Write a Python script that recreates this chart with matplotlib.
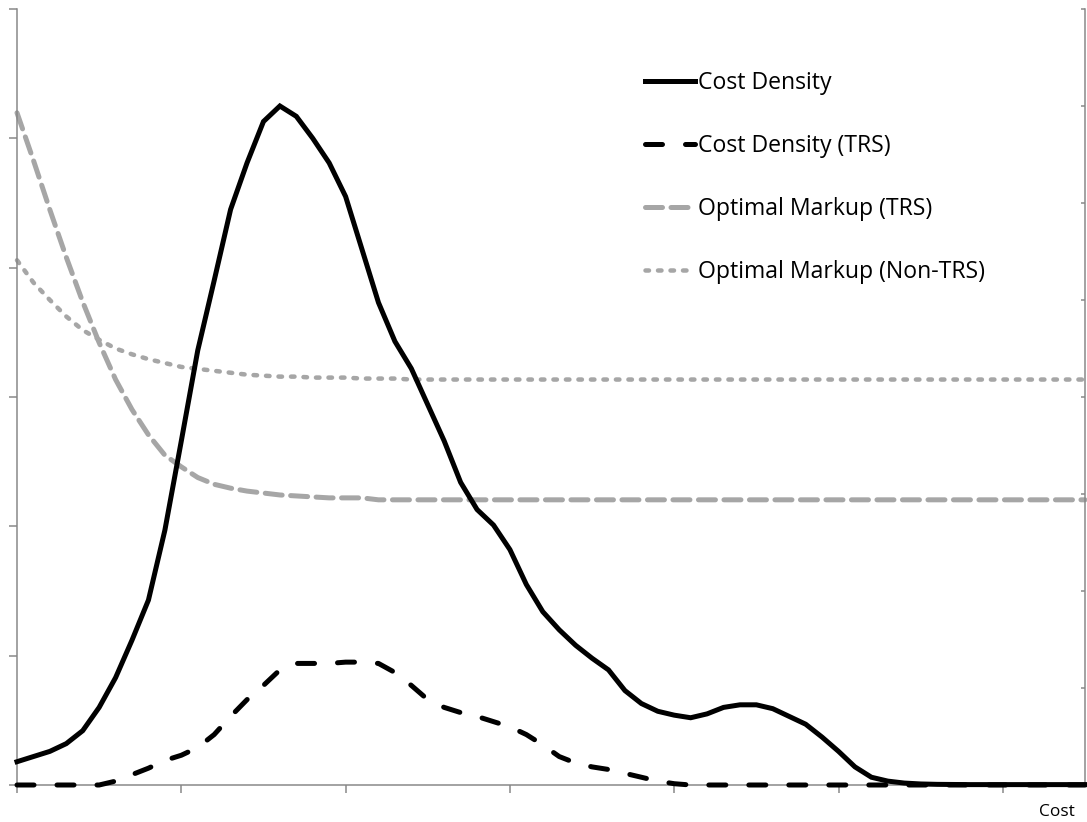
import matplotlib
matplotlib.use("Agg")
import matplotlib.pyplot as plt
import numpy as np

plt.rcParams['font.family'] = ['Open Sans', 'DejaVu Sans']
plt.rcParams['lines.scale_dashes'] = False

# Category index along the cost axis (66 categories)
cost_index = list(range(66))
x_ticks = [0, 10, 20, 30, 40, 50, 60]

# Cost density (left axis units, 0-6)
cost_density = [0.18, 0.22, 0.26, 0.32, 0.42, 0.60, 0.83, 1.12, 1.43, 1.97,
                2.66, 3.36, 3.90, 4.45, 4.81, 5.13, 5.25, 5.17, 5.00, 4.81,
                4.55, 4.14, 3.73, 3.43, 3.22, 2.94, 2.66, 2.34, 2.13, 2.01,
                1.82, 1.55, 1.34, 1.20, 1.08, 0.98, 0.89, 0.73, 0.63, 0.57,
                0.54, 0.52, 0.55, 0.60, 0.62, 0.62, 0.59, 0.53, 0.47, 0.37,
                0.26, 0.14, 0.06, 0.03, 0.015, 0.008, 0.005, 0.004, 0.003, 0.003,
                0.003, 0.003, 0.003, 0.003, 0.003, 0.003]

# Cost density (TRS) (left axis units)
cost_density_trs = [0.0, 0.0, 0.0, 0.0, 0.0, 0.0, 0.03, 0.08, 0.13, 0.19,
                    0.23, 0.29, 0.39, 0.53, 0.66, 0.77, 0.89, 0.94, 0.94, 0.94,
                    0.95, 0.95, 0.94, 0.87, 0.77, 0.66, 0.60, 0.56, 0.53, 0.49,
                    0.45, 0.39, 0.31, 0.22, 0.17, 0.14, 0.12, 0.09, 0.06, 0.03,
                    0.01, 0.0, 0.0, 0.0, 0.0, 0.0, 0.0, 0.0, 0.0, 0.0,
                    0.0, 0.0, 0.0, 0.0, 0.0, 0.0, 0.0, 0.0, 0.0, 0.0,
                    0.0, 0.0, 0.0, 0.0, 0.0, 0.0]

# Optimal markup (TRS) (right axis units, 0-8)
markup_trs = [6.93, 6.44, 5.93, 5.44, 4.98, 4.56, 4.18, 3.87, 3.61, 3.40,
              3.28, 3.17, 3.10, 3.06, 3.03, 3.01, 2.99, 2.98, 2.97, 2.96,
              2.96, 2.96] + [2.94] * 44

# Optimal markup (Non-TRS) (right axis units)
markup_non_trs = [5.41, 5.18, 5.00, 4.83, 4.69, 4.59, 4.50, 4.44, 4.39, 4.35,
                  4.31, 4.29, 4.27, 4.25, 4.23, 4.22, 4.21, 4.21, 4.20, 4.20,
                  4.20, 4.19, 4.19, 4.19] + [4.18] * 42

W, H = 1087, 822
fig = plt.figure(figsize=(W / 100, H / 100), dpi=100)
ax = fig.add_axes([17 / W, 37 / H, (1085 - 17) / W, (785 - 9) / H])
ax2 = ax.twinx()

gray_axis = '#868686'
gray_line = '#A6A6A6'
px = 0.72  # points per pixel at 100 dpi

l1, = ax.plot(cost_index, cost_density, color='black', lw=5 * px,
              solid_joinstyle='miter', label='Cost Density', clip_on=False, zorder=5)
l2, = ax.plot(cost_index, cost_density_trs, color='black', lw=5 * px,
              linestyle=(0, (17 * px, 23 * px)), dash_capstyle='round',
              label='Cost Density (TRS)', clip_on=False, zorder=5)
l3, = ax2.plot(cost_index, markup_trs, color=gray_line, lw=5 * px,
               linestyle=(0, (17 * px, 8.5 * px)), dash_capstyle='round',
               label='Optimal Markup (TRS)', clip_on=False)
l4, = ax2.plot(cost_index, markup_non_trs, color=gray_line, lw=4.5 * px,
               linestyle=(0, (3.5 * px, 9 * px)), dash_capstyle='round',
               label='Optimal Markup (Non-TRS)', clip_on=False)
ax.set_zorder(ax2.get_zorder() + 1)
ax.patch.set_visible(False)

ax.set_xlim(0, 65)
ax.set_ylim(0, 6)
ax2.set_ylim(0, 8)
ax.set_xticks(x_ticks)
ax.set_yticks(range(7))
ax2.set_yticks(range(9))
ax.set_xticklabels([])
ax.set_yticklabels([])
ax2.set_yticklabels([])

for a in (ax, ax2):
    a.spines['top'].set_visible(False)
    for s in ('left', 'right', 'bottom'):
        a.spines[s].set_color(gray_axis)
        a.spines[s].set_linewidth(1.5 * px)
ax.spines['right'].set_visible(False)
ax2.spines['left'].set_visible(False)
ax2.spines['bottom'].set_visible(False)

ax.tick_params(axis='both', direction='out', length=8 * px, width=1.5 * px, color=gray_axis)
ax2.tick_params(axis='y', direction='in', length=4 * px, width=1.5 * px, color=gray_axis)

fig.text(1075 / W, 1 - 812 / H, 'Cost', ha='right', va='center', fontsize=12.5)

fs = 16.6
leg = ax.legend(handles=[l1, l2, l3, l4], loc='upper left',
                bbox_to_anchor=(645 / W, 1 - 71.5 / H), bbox_transform=fig.transFigure,
                frameon=False, fontsize=fs, handlelength=50 / 23, handletextpad=0.13,
                labelspacing=1.68, borderpad=0, borderaxespad=0)

fig.savefig('out.png', dpi=100)
